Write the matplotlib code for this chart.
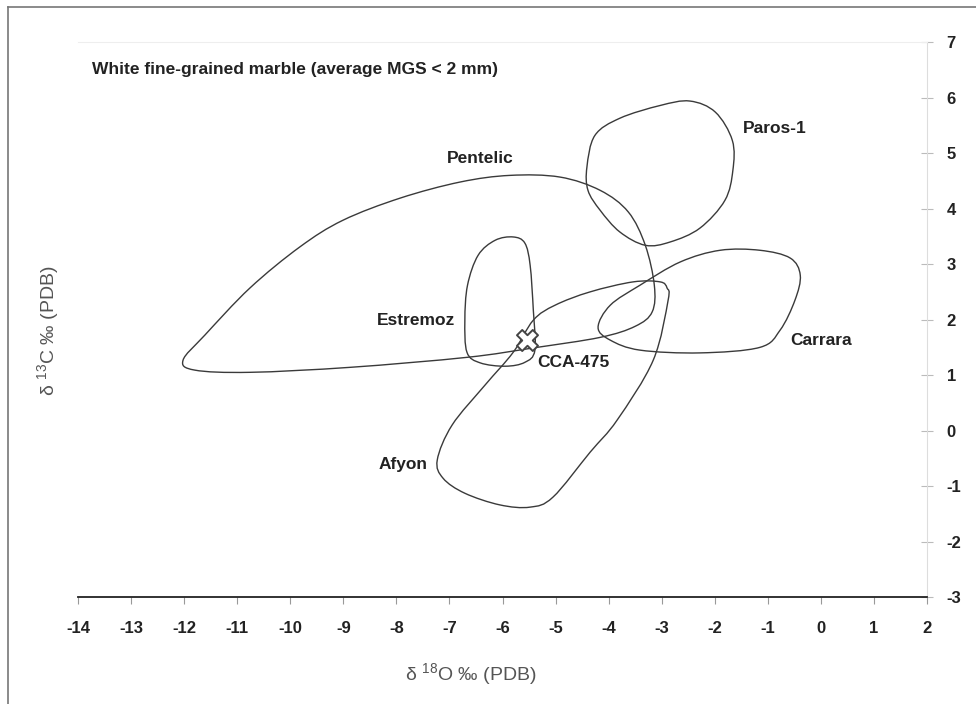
import numpy as np
import matplotlib
matplotlib.use("Agg")
import matplotlib.pyplot as plt
from matplotlib.path import Path
from matplotlib.patches import PathPatch
from matplotlib.lines import Line2D

plt.rcParams['font.family'] = ['Liberation Sans', 'DejaVu Sans']
plt.rcParams['mathtext.fontset'] = 'custom'
plt.rcParams['mathtext.rm'] = 'Liberation Sans'
plt.rcParams['axes.unicode_minus'] = False

# outline fields (d18O, d13C)
pentelic_x = [-12.02, -11.61, -10.76, -9.82, -9.01, -7.93, -6.80, -5.86, -4.92, -4.16,
              -3.63, -3.31, -3.14, -3.18, -3.50, -4.16, -5.42, -6.67, -8.87, -10.76, -11.80]
pentelic_y = [1.27, 1.72, 2.57, 3.31, 3.79, 4.19, 4.48, 4.60, 4.57, 4.33,
              3.94, 3.34, 2.62, 2.14, 1.88, 1.68, 1.49, 1.32, 1.14, 1.05, 1.09]

paros_x = [-4.41, -4.26, -3.79, -3.03, -2.47, -1.99, -1.67, -1.66, -1.81, -2.28,
           -2.84, -3.31, -3.79, -4.16, -4.39]
paros_y = [4.75, 5.32, 5.63, 5.86, 5.94, 5.74, 5.23, 4.69, 4.15, 3.65,
           3.40, 3.34, 3.58, 3.97, 4.33]

estremoz_x = [-6.71, -6.66, -6.46, -6.14, -5.80, -5.58, -5.48, -5.42, -5.39, -5.58,
              -5.95, -6.42, -6.67]
estremoz_y = [1.99, 2.62, 3.16, 3.43, 3.49, 3.38, 2.98, 2.17, 1.45, 1.23,
              1.16, 1.22, 1.41]

carrara_x = [-4.20, -3.97, -3.41, -2.65, -1.90, -1.15, -0.58, -0.39, -0.49, -0.77,
             -1.15, -2.28, -3.41, -3.97]
carrara_y = [1.86, 2.26, 2.62, 3.04, 3.25, 3.25, 3.11, 2.80, 2.35, 1.81,
             1.50, 1.40, 1.45, 1.63]

afyon_x = [-7.23, -6.95, -6.33, -5.80, -5.42, -5.01, -4.35, -3.54, -3.03,
           -2.90, -2.88, -3.16, -3.84, -4.35, -5.05, -5.48, -6.05, -6.71, -7.12]
afyon_y = [-0.53, 0.10, 0.82, 1.41, 1.99, 2.26, 2.50, 2.68, 2.68,
           2.57, 2.35, 1.27, 0.19, -0.39, -1.20, -1.38, -1.34, -1.13, -0.86]

sample_x = [-5.54]
sample_y = [1.63]

field_labels = [("Paros-1", -1.47, 5.45, 'left'),
                ("Pentelic", -6.42, 4.91, 'center'),
                ("Estremoz", -6.90, 1.99, 'right'),
                ("Carrara", -0.58, 1.63, 'left'),
                ("CCA-475", -5.35, 1.23, 'left'),
                ("Afyon", -7.42, -0.62, 'right')]


def closed_smooth_path(xs, ys):
    # Catmull-Rom control points -> cubic Bezier segments
    p = np.column_stack([xs, ys])
    n = len(p)
    verts = [p[0]]
    codes = [Path.MOVETO]
    for i in range(n):
        p0, p1, p2, p3 = p[i - 1], p[i], p[(i + 1) % n], p[(i + 2) % n]
        verts += [p1 + (p2 - p0) / 6, p2 - (p3 - p1) / 6, p2]
        codes += [Path.CURVE4] * 3
    return Path(verts, codes)


fig = plt.figure(figsize=(9.76, 7.04), dpi=100)
ax = fig.add_axes([0.0799, 0.152, 0.870, 0.788])

for xs, ys in [(pentelic_x, pentelic_y), (paros_x, paros_y), (estremoz_x, estremoz_y),
               (carrara_x, carrara_y), (afyon_x, afyon_y)]:
    ax.add_patch(PathPatch(closed_smooth_path(xs, ys), facecolor='none',
                           edgecolor='#3a3a3a', lw=1.0))

ax.scatter(sample_x, sample_y, marker='X', s=230, facecolor='white',
           edgecolor='#444444', linewidth=1.4, zorder=5)

for txt, x, y, ha in field_labels:
    ax.text(x, y, txt, ha=ha, va='center', fontsize=12.5, fontweight='bold', color='#222222')

ax.text(-13.74, 6.5, "White fine-grained marble (average MGS < 2 mm)", ha='left',
        va='center', fontsize=12.5, fontweight='bold', color='#222222')

ax.set_xlim(-14, 2)
ax.set_ylim(-3, 7)
ax.set_xticks(range(-14, 3))
ax.set_yticks(range(-3, 8))
ax.yaxis.tick_right()
ax.tick_params(axis='x', direction='out', length=5, color='#999999', pad=12,
               labelsize=12)
ax.tick_params(axis='y', direction='inout', length=8, color='#bbbbbb', pad=10,
               labelsize=12)
for lab in ax.get_xticklabels() + ax.get_yticklabels():
    lab.set_fontweight('bold')
    lab.set_color('#222222')

ax.spines['left'].set_visible(False)
ax.spines['top'].set_color('#eeeeee')
ax.spines['right'].set_color('#dddddd')
ax.spines['bottom'].set_color('#222222')
ax.spines['bottom'].set_linewidth(1.3)

fig.text(0.482, 0.041, "δ $^{18}$O ‰ (PDB)", ha='center', va='center',
         fontsize=14, color='#555555')
fig.text(0.050, 0.53, "δ $^{13}$C ‰ (PDB)", ha='center', va='center',
         rotation=90, fontsize=14, color='#555555')

# outer frame of the figure
fig.add_artist(Line2D([0.008, 1.0], [0.990, 0.990], color='#777777', lw=1.2))
fig.add_artist(Line2D([0.008, 0.008], [0.0, 0.990], color='#777777', lw=1.2))

fig.savefig("out.png", dpi=100)
